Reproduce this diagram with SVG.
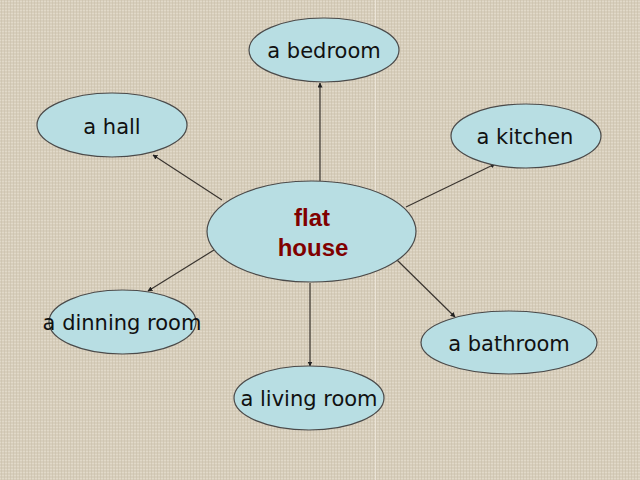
<svg xmlns="http://www.w3.org/2000/svg" width="640" height="480" viewBox="0 0 640 480">
<defs>
<style>
.node ellipse{fill:#b8dee3;stroke:#4a4a4a;stroke-width:1.2}
.lbl{font-family:"DejaVu Sans","Noto Sans",sans-serif;font-size:21px;fill:#111;text-anchor:middle}
.ttl{font-family:"Liberation Sans",Arial,sans-serif;font-size:24px;font-weight:bold;fill:#800000;text-anchor:middle}
.conn line{stroke:#3a3530;stroke-width:1.2;marker-end:url(#ah)}
</style>
<marker id="ah" viewBox="0 0 10 10" refX="9" refY="5" markerWidth="5" markerHeight="5" orient="auto" markerUnits="userSpaceOnUse">
<path d="M0,0 L10,5 L0,10 z" fill="#222"/>
</marker>
<pattern id="linen" width="6" height="6" patternUnits="userSpaceOnUse">
<rect width="6" height="6" fill="#d7cebc"/>
<path d="M0,1.5H6M0,4.5H6" stroke="#e3dccd" stroke-width="0.8"/>
<path d="M1.5,0V6M4.5,0V6" stroke="#c9bfaa" stroke-width="0.6"/>
</pattern>
</defs>
<rect width="640" height="480" fill="url(#linen)"/>
<line x1="375.5" y1="0" x2="375.5" y2="480" stroke="#efe9dd" stroke-width="1" opacity="0.8"/>
<g id="connectors" class="conn">
<line x1="320" y1="181" x2="320" y2="83"/>
<line x1="222" y1="200" x2="153" y2="155"/>
<line x1="406" y1="207" x2="495" y2="164"/>
<line x1="214" y1="250" x2="148" y2="291"/>
<line x1="396" y1="259" x2="455" y2="317"/>
<line x1="310" y1="283" x2="310" y2="366"/>
</g>
<g id="n-center" class="node"><ellipse cx="311.5" cy="231.5" rx="104.5" ry="50.5"/><text class="ttl" x="312" y="226">flat</text><text class="ttl" x="313" y="256">house</text></g>
<g id="n-bedroom" class="node"><ellipse cx="324" cy="50" rx="75" ry="32"/><text class="lbl" x="324" y="57.5">a bedroom</text></g>
<g id="n-hall" class="node"><ellipse cx="112" cy="125" rx="75" ry="32"/><text class="lbl" x="112" y="134">a hall</text></g>
<g id="n-kitchen" class="node"><ellipse cx="526" cy="136" rx="75" ry="32"/><text class="lbl" x="525" y="144">a kitchen</text></g>
<g id="n-dinning" class="node"><ellipse cx="122.5" cy="322" rx="73.5" ry="32"/><text class="lbl" x="122" y="330">a dinning room</text></g>
<g id="n-bathroom" class="node"><ellipse cx="509" cy="342.5" rx="88" ry="31.5"/><text class="lbl" x="509" y="351">a bathroom</text></g>
<g id="n-living" class="node"><ellipse cx="309" cy="398" rx="75" ry="32"/><text class="lbl" x="309" y="406">a living room</text></g>
</svg>
